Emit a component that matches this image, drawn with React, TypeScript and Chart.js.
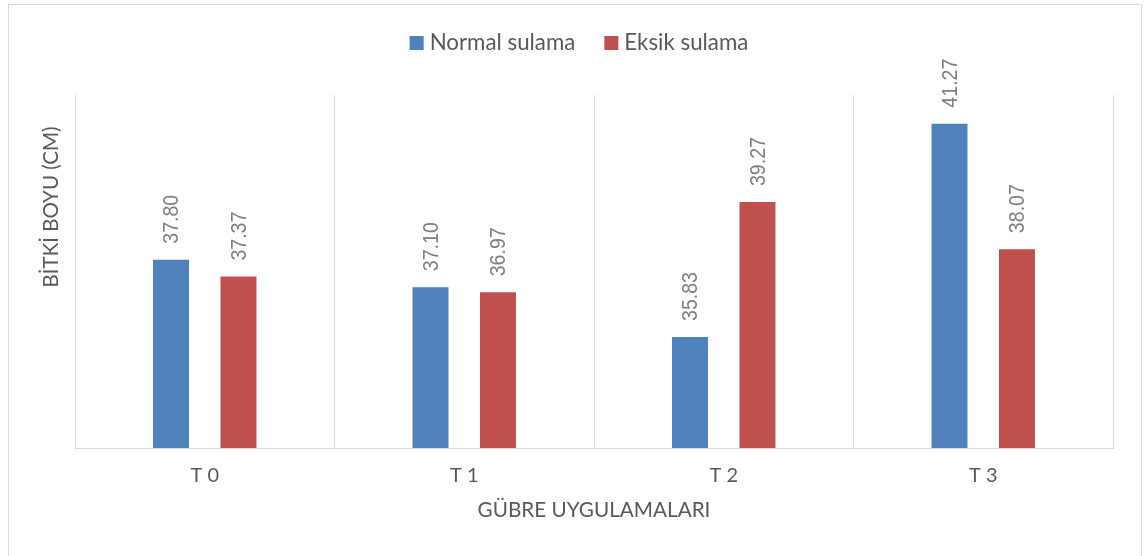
import React, { useEffect, useRef } from "react";
import { Chart, registerables } from "chart.js";

Chart.register(...registerables);

const categories = ["T 0", "T 1", "T 2", "T 3"];
const seriesNames = ["Normal sulama", "Eksik sulama"];
const normalSulama = [37.8, 37.1, 35.83, 41.27];
const eksikSulama = [37.37, 36.97, 39.27, 38.07];
const seriesColors = ["#4F81BD", "#C0504D"];
const yAxisTitle = "BİTKİ BOYU (CM)";
const xAxisTitle = "GÜBRE UYGULAMALARI";
const yMin = 33;
const yMax = 42;

const FONT = "Lato, 'Open Sans', sans-serif";
const LABEL_FONT = "'Liberation Sans', Arial, sans-serif";
const TEXT = "#595959";

const extrasPlugin = {
  id: "extras",
  afterDatasetsDraw(chart: any) {
    const ctx = chart.ctx;
    ctx.save();
    ctx.font = `22px ${LABEL_FONT}`;
    ctx.fillStyle = "#808080";
    ctx.textAlign = "left";
    ctx.textBaseline = "middle";
    chart.data.datasets.forEach((ds: any, di: number) => {
      const meta = chart.getDatasetMeta(di);
      meta.data.forEach((bar: any, i: number) => {
        const v = ds.data[i] as number;
        ctx.save();
        ctx.translate(bar.x + 1, bar.y - 16);
        ctx.rotate(-Math.PI / 2);
        ctx.scale(0.89, 1);
        ctx.fillText(v.toFixed(2), 0, 0);
        ctx.restore();
      });
    });
    ctx.restore();
  },
  afterDraw(chart: any) {
    const ctx = chart.ctx;
    ctx.save();
    // y-axis title
    ctx.font = `20.5px ${FONT}`;
    ctx.fillStyle = TEXT;
    ctx.textAlign = "center";
    ctx.textBaseline = "middle";
    ctx.translate(42, 202);
    ctx.rotate(-Math.PI / 2);
    ctx.fillText(yAxisTitle, 0, 0);
    ctx.restore();

    // legend
    ctx.save();
    ctx.font = `22.3px ${FONT}`;
    ctx.textBaseline = "middle";
    ctx.textAlign = "left";
    const box = 14;
    const gap = 6;
    const spacing = 29;
    const items = chart.data.datasets.map((ds: any) => ({
      label: ds.label,
      color: ds.backgroundColor,
      w: ctx.measureText(ds.label).width,
    }));
    const total =
      items.reduce((s: number, it: any) => s + box + gap + it.w, 0) +
      spacing * (items.length - 1);
    let x = chart.width / 2 + 4 - total / 2;
    const cy = 38;
    items.forEach((it: any) => {
      ctx.fillStyle = it.color;
      ctx.fillRect(x, cy - box / 2, box, box);
      x += box + gap;
      ctx.fillStyle = TEXT;
      ctx.fillText(it.label, x, cy);
      x += it.w + spacing;
    });
    ctx.restore();
  },
};

export default function App() {
  const ref = useRef<HTMLCanvasElement>(null);
  useEffect(() => {
    if (!ref.current) return;
    const chart = new Chart(ref.current, {
      type: "bar",
      data: {
        labels: categories,
        datasets: [
          { label: seriesNames[0], data: normalSulama, backgroundColor: seriesColors[0] },
          { label: seriesNames[1], data: eksikSulama, backgroundColor: seriesColors[1] },
        ],
      },
      options: {
        responsive: false,
        animation: false,
        layout: { padding: { left: 66, right: 28, top: 90, bottom: 33 } },
        plugins: { legend: { display: false }, tooltip: { enabled: false } },
        datasets: { bar: { categoryPercentage: 0.52, barPercentage: 0.533 } } as any,
        scales: {
          x: {
            afterFit(scale: any) {
              scale.height = 75;
            },
            grid: { color: "#D9D9D9", drawTicks: false, offset: true },
            border: { color: "#D9D9D9" },
            ticks: { font: { family: FONT, size: 20 }, color: TEXT, padding: 16 },
            title: {
              display: true,
              text: xAxisTitle,
              font: { family: FONT, size: 20.7 },
              color: TEXT,
              padding: { top: 0, bottom: 0 },
            },
          },
          y: { display: false, min: yMin, max: yMax },
        },
      },
      plugins: [extrasPlugin],
    });
    return () => chart.destroy();
  }, []);
  return (
    <div
      style={{
        position: "absolute",
        left: 8,
        top: 4,
        width: 1134,
        height: 600,
        border: "1px solid #D9D9D9",
        boxSizing: "border-box",
        background: "#fff",
      }}
    >
      <canvas ref={ref} width={1132} height={551} style={{ display: "block" }} />
    </div>
  );
}
